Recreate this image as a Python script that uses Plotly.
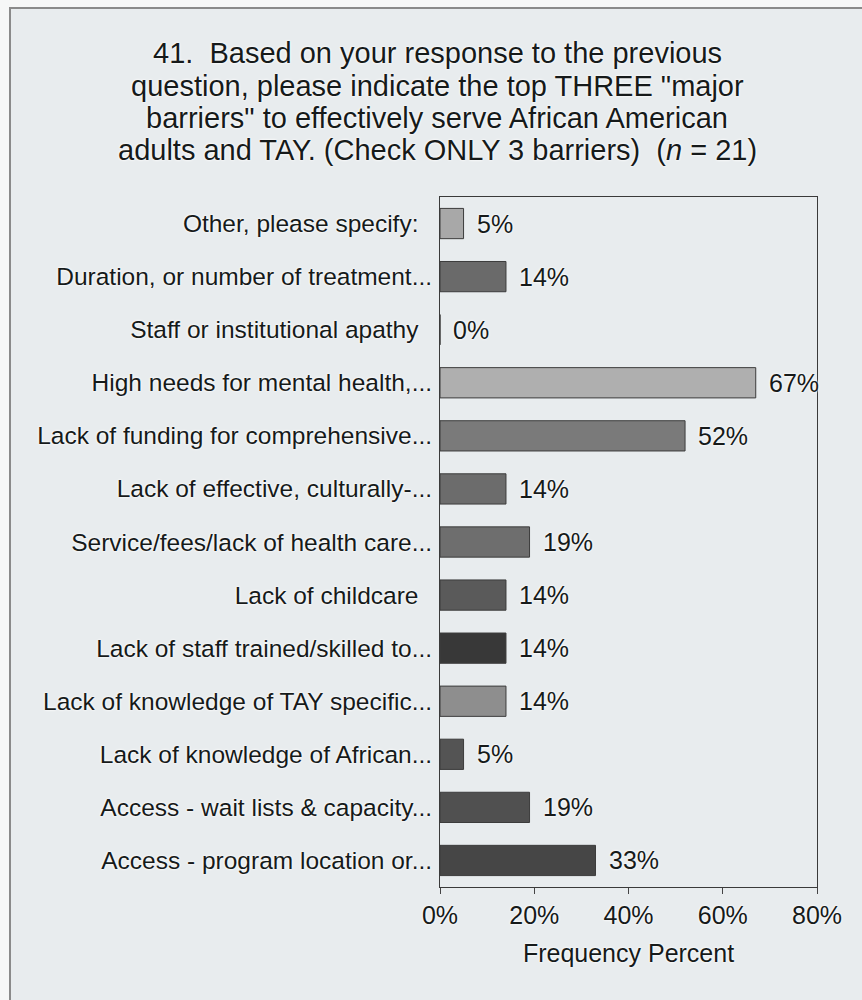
import plotly.graph_objects as go

# Survey item 41: top three major barriers (n = 21), top-to-bottom order
NB = "\u00a0"
categories = [
    "Other, please specify:" + NB * 2,
    "Duration, or number of treatment...",
    "Staff or institutional apathy" + NB * 2,
    "High needs for mental health,...",
    "Lack of funding for comprehensive...",
    "Lack of effective, culturally-...",
    "Service/fees/lack of health care...",
    "Lack of childcare" + NB * 2,
    "Lack of staff trained/skilled to...",
    "Lack of knowledge of TAY specific...",
    "Lack of knowledge of African...",
    "Access - wait lists & capacity...",
    "Access - program location or...",
]
percents = [5, 14, 0, 67, 52, 14, 19, 14, 14, 14, 5, 19, 33]
bar_colors = [
    "#a8a8a8", "#6a6a6a", "#8a8a8a", "#afafaf", "#7a7a7a", "#6c6c6c",
    "#6e6e6e", "#5a5a5a", "#383838", "#8e8e8e", "#545454", "#505050", "#464646",
]
x_ticks = [0, 20, 40, 60, 80]
x_tick_labels = ["0%", "20%", "40%", "60%", "80%"]

title_lines = [
    "41.  Based on your response to the previous",
    "question, please indicate the top THREE \"major",
    "barriers\" to effectively serve African American",
    "adults and TAY. (Check ONLY 3 barriers)  (<i>n</i> = 21)",
]
title_line_y = [53, 86, 118, 150]  # vertical centre of each title line, px from top

FONT = "Liberation Sans, Arial, sans-serif"
INK = "#161a1a"
HALO = "0px 0px 3px #ffffff, 0px 0px 2px #ffffff"

W, H = 862, 1000
L, R, T, B = 440, 45, 197, 113


def px_to_x(px):
    return (px - L) / (W - L - R)


def px_to_y(py):
    return (H - B - py) / (H - T - B)


fig = go.Figure()
fig.add_trace(go.Bar(
    x=percents,
    y=categories,
    orientation="h",
    width=0.57,
    marker=dict(color=bar_colors, line=dict(color="#3c3c3c", width=1)),
    hoverinfo="skip",
))

# value labels to the right of each bar
for cat, val in zip(categories, percents):
    fig.add_annotation(
        x=val, y=cat, xref="x", yref="y",
        text=f"{val}%", showarrow=False,
        xanchor="left", xshift=11,
        font=dict(family=FONT, size=25, color=INK, shadow=HALO),
    )

# title, one line at a time
for line, ypx in zip(title_lines, title_line_y):
    fig.add_annotation(
        x=px_to_x(437), y=px_to_y(ypx), xref="paper", yref="paper",
        text=line, showarrow=False,
        xanchor="center", yanchor="middle",
        font=dict(family=FONT, size=29, color=INK, shadow=HALO),
    )

# outer page frame (light panel with a thin grey edge)
fig.add_shape(
    type="rect", xref="paper", yref="paper", layer="below",
    x0=px_to_x(10), x1=px_to_x(W + 20), y0=px_to_y(H + 20), y1=px_to_y(8),
    fillcolor="#e8ecee", line=dict(color="#8a8a8a", width=2),
)

fig.update_layout(
    width=W, height=H,
    margin=dict(l=L, r=R, t=T, b=B),
    paper_bgcolor="#f6f7f7",
    plot_bgcolor="rgba(0,0,0,0)",
    showlegend=False,
    font=dict(family=FONT, size=25, color=INK, shadow=HALO),
    xaxis=dict(
        range=[0, 80],
        tickvals=x_ticks, ticktext=x_tick_labels,
        ticks="outside", ticklen=6, tickcolor="#444",
        showgrid=False, zeroline=False,
        showline=True, linecolor="#3a3a3a", linewidth=1, mirror=True,
        tickfont=dict(size=25),
        title=dict(text="Frequency Percent", font=dict(size=25), standoff=16),
        fixedrange=True,
    ),
    yaxis=dict(
        autorange="reversed",
        showgrid=False, zeroline=False,
        showline=True, linecolor="#3a3a3a", linewidth=1, mirror=True,
        ticks="", ticklabelstandoff=2,
        tickfont=dict(size=24.5),
        fixedrange=True,
    ),
)

fig.write_html("out.html")
